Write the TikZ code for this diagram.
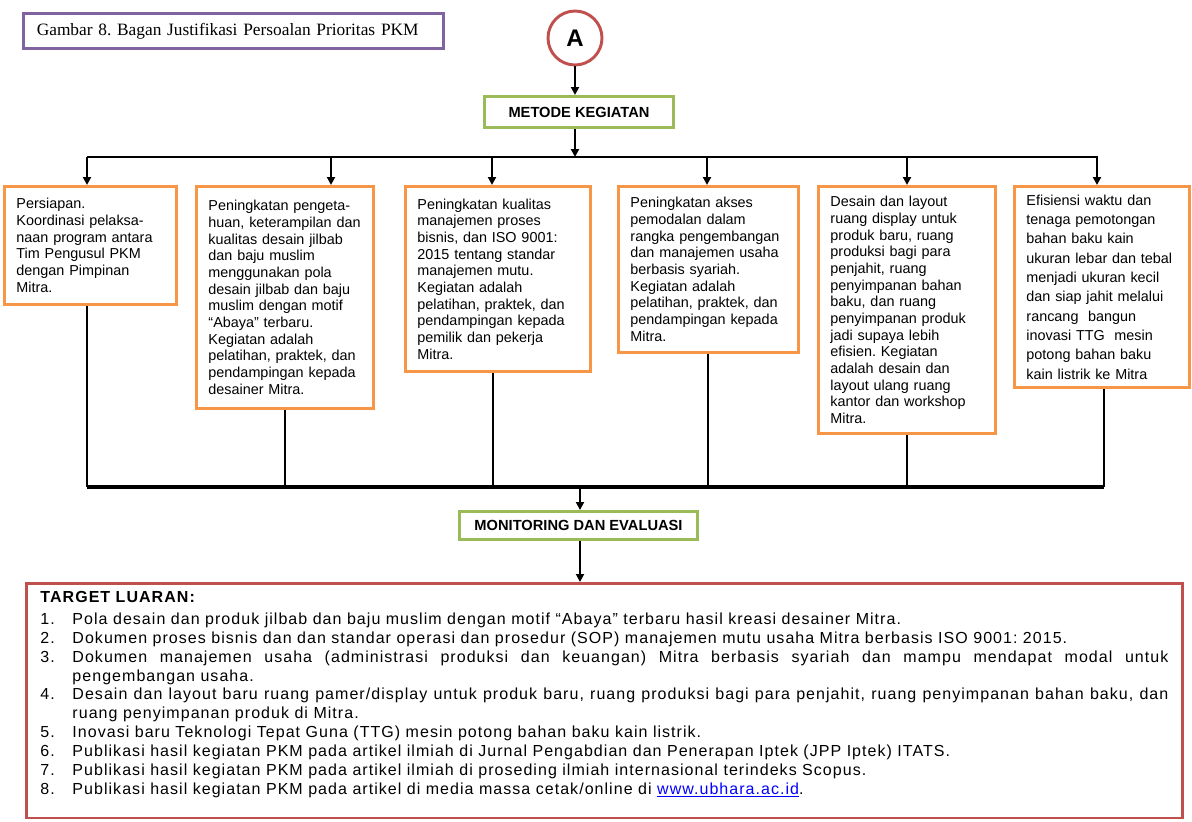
\documentclass[tikz,border=0pt]{standalone}
\usepackage{fontspec}
\setmainfont{Liberation Sans}
\newfontfamily\judulfont{Liberation Serif}
\newfontfamily\luaranfont[LetterSpace=6.5]{Liberation Sans}
\usetikzlibrary{arrows.meta}
\definecolor{oranye}{HTML}{F79646}
\definecolor{hijau}{HTML}{9BBB59}
\definecolor{merah}{HTML}{C0504D}
\definecolor{ungu}{HTML}{8064A2}
\definecolor{tautan}{HTML}{0000FF}
\frenchspacing
\tikzset{%
	kotak/.style={
		rectangle,
		draw=oranye,
		line width=2.2pt,
		anchor=north west,
		inner xsep=9pt,
		align=left,
		font=\fontsize{10.8}{12.5}\selectfont
	},
	tahap/.style={
		rectangle,
		draw=hijau,
		line width=2.2pt,
		font=\fontsize{11}{13}\selectfont\bfseries
	},
}

\begin{document}
\begin{tikzpicture}[
				x=0.75pt, y=-0.75pt,
				panah/.style={-{Triangle[length=6pt,width=6pt]}, line width=1.8pt},
				garis/.style={line width=1.6pt}
				]
				\useasboundingbox (0,0) rectangle (1192,821);
				
				% judul dan awal
				\node[draw=ungu, line width=2.2pt, anchor=north west, minimum height=26.3pt,
					text width=295pt, inner xsep=10pt, align=left, font=\judulfont\fontsize{13}{15}\selectfont]
					(judul) at (22,12) {Gambar 8. Bagan Justifikasi Persoalan Prioritas PKM};
				\node[circle, draw=merah, line width=2.2pt, minimum size=40.5pt, inner sep=0pt,
					font=\fontsize{18}{20}\selectfont\bfseries] (A) at (575,38) {A};
				\node[tahap, minimum width=141.8pt, minimum height=23.3pt] (metode) at (579,112) {METODE KEGIATAN};
				
				% kegiatan
				\node[kotak, text width=111pt, minimum height=88.5pt] (k1) at (3,185)
				{Persiapan.\\ Koordinasi pelaksa-\\ naan program antara\\ Tim Pengusul PKM\\ dengan Pimpinan\\ Mitra.};
				\node[kotak, text width=114.8pt, minimum height=166.5pt] (k2) at (195,185)
				{Peningkatan pengeta-\\ huan, keterampilan dan\\ kualitas desain jilbab\\ dan baju muslim\\ menggunakan pola\\ desain jilbab dan baju\\ muslim dengan motif\\ “Abaya” terbaru.\\ Kegiatan adalah\\ pelatihan, praktek, dan\\ pendampingan kepada\\ desainer Mitra.};
				\node[kotak, text width=120.8pt, minimum height=138.8pt] (k3) at (404,185)
				{Peningkatan kualitas\\ manajemen proses\\ bisnis, dan ISO 9001:\\ 2015 tentang standar\\ manajemen mutu.\\ Kegiatan adalah\\ pelatihan, praktek, dan\\ pendampingan kepada\\ pemilik dan pekerja\\ Mitra.};
				\node[kotak, text width=117pt, minimum height=124.5pt] (k4) at (617,185)
				{Peningkatan akses\\ pemodalan dalam\\ rangka pengembangan\\ dan manajemen usaha\\ berbasis syariah.\\ Kegiatan adalah\\ pelatihan, praktek, dan\\ pendampingan kepada\\ Mitra.};
				\node[kotak, text width=114.8pt, minimum height=185.3pt] (k5) at (817,185)
				{Desain dan layout\\ ruang display untuk\\ produk baru, ruang\\ produksi bagi para\\ penjahit, ruang\\ penyimpanan bahan\\ baku, dan ruang\\ penyimpanan produk\\ jadi supaya lebih\\ efisien. Kegiatan\\ adalah desain dan\\ layout ulang ruang\\ kantor dan workshop\\ Mitra.};
				\node[kotak, text width=113.3pt, minimum height=150.8pt, font=\fontsize{10.8}{14.5}\selectfont] (k6) at (1013,185)
				{Efisiensi waktu dan\\ tenaga pemotongan\\ bahan baku kain\\ ukuran lebar dan tebal\\ menjadi ukuran kecil\\ dan siap jahit melalui\\ rancang\ \ bangun\\ inovasi TTG\ \ mesin\\ potong bahan baku\\ kain listrik ke Mitra};
				
				\node[tahap, minimum width=178.5pt, minimum height=21pt] (monev) at (578.5,525.5) {MONITORING DAN EVALUASI};
				
				% target luaran
				\node[draw=merah, line width=2.2pt, anchor=north west, inner xsep=10.5pt, inner ysep=6pt,
					text width=846pt, align=justify, font=\luaranfont\fontsize{12}{14.2}\selectfont] (luaran) at (25,582)
				{\textbf{TARGET LUARAN:}\par\vspace{2pt}
					\hangindent=24pt\hangafter=1\noindent\makebox[24pt][l]{1.}Pola desain dan produk jilbab dan baju muslim dengan motif “Abaya” terbaru hasil kreasi desainer Mitra.\par
					\hangindent=24pt\hangafter=1\noindent\makebox[24pt][l]{2.}Dokumen proses bisnis dan dan standar operasi dan prosedur (SOP) manajemen mutu usaha Mitra berbasis ISO 9001: 2015.\par
					\hangindent=24pt\hangafter=1\noindent\makebox[24pt][l]{3.}Dokumen manajemen usaha (administrasi produksi dan keuangan) Mitra berbasis syariah dan mampu mendapat modal untuk\linebreak pengembangan usaha.\par
					\hangindent=24pt\hangafter=1\noindent\makebox[24pt][l]{4.}Desain dan layout baru ruang pamer/display untuk produk baru, ruang produksi bagi para penjahit, ruang penyimpanan bahan baku, dan\linebreak ruang penyimpanan produk di Mitra.\par
					\hangindent=24pt\hangafter=1\noindent\makebox[24pt][l]{5.}Inovasi baru Teknologi Tepat Guna (TTG) mesin potong bahan baku kain listrik.\par
					\hangindent=24pt\hangafter=1\noindent\makebox[24pt][l]{6.}Publikasi hasil kegiatan PKM pada artikel ilmiah di Jurnal Pengabdian dan Penerapan Iptek (JPP Iptek) ITATS.\par
					\hangindent=24pt\hangafter=1\noindent\makebox[24pt][l]{7.}Publikasi hasil kegiatan PKM pada artikel ilmiah di proseding ilmiah internasional terindeks Scopus.\par
					\hangindent=24pt\hangafter=1\noindent\makebox[24pt][l]{8.}Publikasi hasil kegiatan PKM pada artikel di media massa cetak/online di \textcolor{tautan}{\underline{www.ubhara.ac.id}}.\rule[-11.5pt]{0pt}{0pt}};
				
				% panah atas
				\coordinate (atas) at (575,157);
				\draw[panah] (A) -- (A |- metode.north);
				\draw[panah] (atas |- metode.south) -- (atas);
				\draw[garis] (87,157) coordinate (atasL) -- (1098,157) coordinate (atasR);
				\foreach \n/\x in {1/87,2/331,3/492,4/707,5/907,6/1097}
				{
					\coordinate (cab\n) at (\x,157);
					\draw[panah] (cab\n) -- (cab\n |- k\n.north);
				}
				
				% garis bawah
				\foreach \n/\x in {1/87,2/285,3/493,4/708,5/907,6/1104}
				{
					\coordinate (bawah\n) at (\x,487);
					\draw[garis] (bawah\n |- k\n.south) -- (bawah\n);
				}
				\draw[line width=2.6pt] (bawah1) -- (bawah6);
				\coordinate (tengah) at (580,487);
				\draw[panah, line width=1.4pt] (tengah) -- (tengah |- monev.north);
				\draw[panah, line width=1.4pt] (tengah |- monev.south) -- (tengah |- luaran.north);
				
			\end{tikzpicture}
\end{document}
